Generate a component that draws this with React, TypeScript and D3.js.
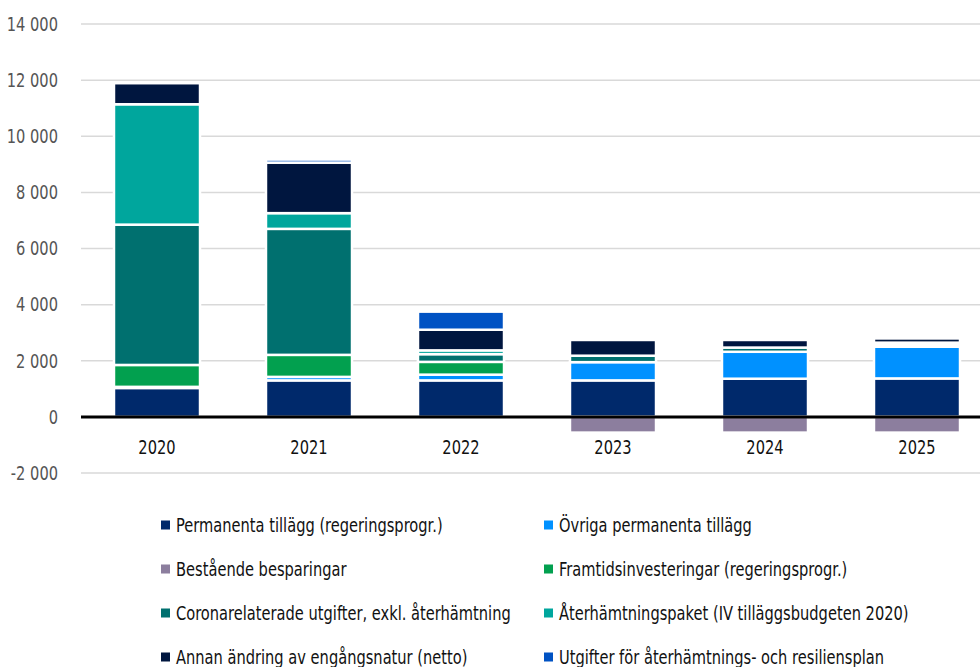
import React, { useEffect, useRef } from 'react';
import * as d3 from 'd3';

const years = ['2020', '2021', '2022', '2023', '2024', '2025'];

const permanenta = [1030, 1300, 1300, 1300, 1360, 1370];
const ovrigaPermanenta = [40, 125, 205, 650, 960, 1130];
const bestaende = [0, 0, 0, -560, -560, -560];
const framtid = [780, 785, 455, 0, 0, 0];
const corona = [5000, 4490, 275, 230, 150, 80];
const aterhamtning = [4290, 560, 135, 0, 0, 65];
const annan = [750, 1800, 735, 560, 270, 150];
const utgifter = [0, 110, 645, 0, 0, 0];

const yTicks = [-2000, 0, 2000, 4000, 6000, 8000, 10000, 12000, 14000];

const series = [
    { key: 'perm', label: 'Permanenta tillägg (regeringsprogr.)', color: '#00296b', values: permanenta },
    { key: 'ovr', label: 'Övriga permanenta tillägg', color: '#0091ff', values: ovrigaPermanenta },
    { key: 'best', label: 'Bestående besparingar', color: '#8c7e9e', values: bestaende },
    { key: 'fram', label: 'Framtidsinvesteringar (regeringsprogr.)', color: '#02a04f', values: framtid },
    { key: 'coro', label: 'Coronarelaterade utgifter, exkl. återhämtning', color: '#00706f', values: corona },
    { key: 'ater', label: 'Återhämtningspaket (IV tilläggsbudgeten 2020)', color: '#00a69d', values: aterhamtning },
    { key: 'annan', label: 'Annan ändring av engångsnatur (netto)', color: '#00163f', values: annan },
    { key: 'utg', label: 'Utgifter för återhämtnings- och resiliensplan', color: '#0052c3', values: utgifter },
];

const FONT = '"DejaVu Sans", "Liberation Sans", sans-serif';

const App: React.FC = () => {
    const svgRef = useRef<SVGSVGElement | null>(null);

    useEffect(() => {
        const width = 980;
        const svg = d3.select(svgRef.current);
        svg.selectAll('*').remove();

        const left = 81;

        const table = years.map((year, i) => {
            const row: { [k: string]: any } = { year };
            series.forEach(s => { row[s.key] = s.values[i]; });
            return row;
        });

        const stacked = d3.stack<any>()
            .keys(series.map(s => s.key))
            .offset(d3.stackOffsetDiverging)(table);

        const x = d3.scaleBand()
            .domain(years)
            .range([left, 993])
            .paddingInner(0.434)
            .paddingOuter(0.217);

        const y = d3.scaleLinear()
            .domain([-2000, 14000])
            .range([473, 24]);

        // gridlines
        svg.append('g')
            .selectAll('line')
            .data(yTicks.filter(t => t !== 0))
            .enter()
            .append('line')
            .attr('x1', left)
            .attr('x2', width)
            .attr('y1', d => y(d))
            .attr('y2', d => y(d))
            .attr('stroke', '#d9d9d9')
            .attr('stroke-width', 1.5);

        // y tick labels (space as thousands separator)
        const fmt = (v: number) => d3.format(',')(v).replace(/,/g, ' ').replace('\u2212', '-');
        svg.append('g')
            .selectAll('text')
            .data(yTicks)
            .enter()
            .append('text')
            .attr('class', 'cond')
            .attr('x', 58)
            .attr('y', d => y(d))
            .attr('dy', '0.36em')
            .attr('text-anchor', 'end')
            .attr('fill', '#555')
            .style('font-size', '19px')
            .text(d => fmt(d));

        // bars
        stacked.forEach((layer, li) => {
            svg.append('g')
                .attr('fill', series[li].color)
                .selectAll('rect')
                .data(layer.filter(d => d[1] - d[0] !== 0))
                .enter()
                .append('rect')
                .attr('x', d => x(d.data.year) ?? 0)
                .attr('y', d => y(Math.max(d[0], d[1])))
                .attr('width', x.bandwidth())
                .attr('height', d => Math.abs(y(d[0]) - y(d[1])))
                .attr('stroke', '#ffffff')
                .attr('stroke-width', 2.5);
        });

        // zero line
        svg.append('line')
            .attr('x1', left)
            .attr('x2', width)
            .attr('y1', y(0))
            .attr('y2', y(0))
            .attr('stroke', '#000')
            .attr('stroke-width', 3);

        // x labels
        svg.append('g')
            .selectAll('text')
            .data(years)
            .enter()
            .append('text')
            .attr('class', 'cond')
            .attr('x', d => (x(d) ?? 0) + x.bandwidth() / 2)
            .attr('y', 447)
            .attr('dy', '0.36em')
            .attr('text-anchor', 'middle')
            .attr('fill', '#111')
            .style('font-size', '19px')
            .text(d => d);

        // legend, two columns
        const legend = svg.append('g');
        series.forEach((s, i) => {
            const col = i % 2;
            const row = Math.floor(i / 2);
            const lx = col === 0 ? 161 : 544;
            const ly = 525 + row * 44;
            legend.append('rect')
                .attr('x', lx)
                .attr('y', ly - 4.5)
                .attr('width', 9)
                .attr('height', 9)
                .attr('fill', s.color);
            legend.append('text')
                .attr('class', 'cond')
                .attr('x', lx + 15)
                .attr('y', ly)
                .attr('dy', '0.36em')
                .attr('fill', '#111')
                .style('font-size', '19px')
                .text(s.label);
        });

        // squeeze text horizontally (about its anchor) to mimic the condensed font of the original
        const texts = svg.selectAll<SVGTextElement, unknown>('text.cond').style('font-family', FONT);
        const probe = legend.selectAll<SVGTextElement, unknown>('text').nodes()[4];
        const ratio = probe ? 335 / probe.getComputedTextLength() : 0.85;
        texts.each(function () {
            const ax = +(this.getAttribute('x') || 0);
            d3.select(this).attr('transform', `translate(${ax * (1 - ratio)},0) scale(${ratio},1)`);
        });
    }, []);

    return (
        <svg
            ref={svgRef}
            width={980}
            height={667}
            style={{ position: 'absolute', left: 0, top: 0, background: '#fff' }}
        />
    );
};

export default App;
